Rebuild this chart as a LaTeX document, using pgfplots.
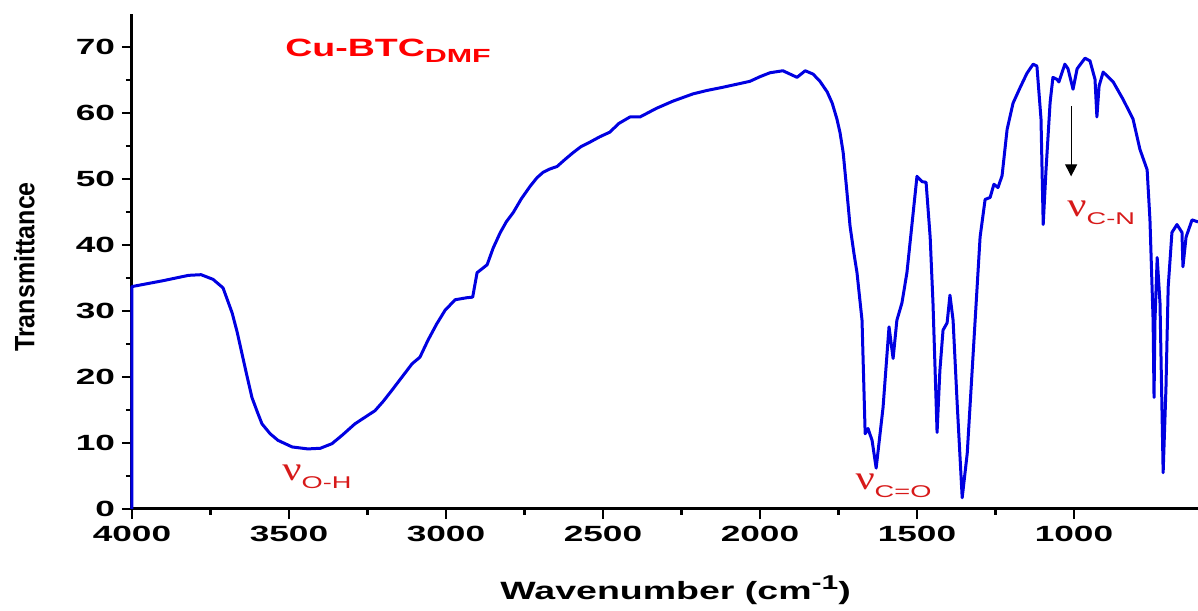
\documentclass[border=0pt]{standalone}
\usepackage{pgfplots}
\pgfplotsset{compat=1.18}
\usepackage{fontspec}
\usetikzlibrary{arrows.meta}
\setmainfont{Liberation Sans}
\newfontfamily\wide[FakeStretch=1.6]{Liberation Sans}
\newfontfamily\midw[FakeStretch=1.5]{Liberation Sans}
\newfontfamily\nufont[FakeStretch=1.25]{Liberation Serif}
\definecolor{specblue}{RGB}{0,0,225}
\definecolor{annred}{RGB}{215,25,25}

% FTIR spectrum
\pgfplotstableread{
w T
4000 0
4000 33.7
3900 34.6
3820 35.4
3780 35.5
3742 34.8
3710 33.5
3681 29.7
3665 26.8
3650 23.6
3634 20.2
3618 16.9
3600 14.6
3586 12.9
3560 11.4
3535 10.4
3490 9.4
3440 9.1
3400 9.2
3363 9.9
3330 11.2
3290 12.9
3226 14.9
3200 16.3
3172 18.0
3140 20.0
3108 22.0
3083 23.0
3057 25.6
3030 28.0
3003 30.1
2971 31.7
2935 32.0
2915 32.1
2901 35.8
2869 37.0
2850 39.5
2828 41.8
2808 43.5
2786 44.9
2760 47.0
2732 48.9
2710 50.2
2691 51.0
2670 51.5
2646 51.9
2620 53.0
2595 54.0
2570 54.9
2541 55.6
2510 56.4
2478 57.1
2450 58.4
2414 59.4
2382 59.4
2330 60.7
2277 61.8
2213 62.9
2170 63.4
2118 63.9
2070 64.4
2032 64.8
2000 65.5
1968 66.1
1927 66.4
1882 65.4
1856 66.4
1831 65.9
1809 64.8
1786 63.2
1770 61.5
1755 59.1
1745 57.0
1735 54.0
1724 48.5
1713 42.8
1700 38.5
1691 35.8
1675 28.6
1665 11.4
1656 12.2
1643 10.4
1630 6.2
1608 15.4
1589 27.6
1576 22.8
1564 28.6
1548 31.2
1532 35.8
1500 50.4
1484 49.6
1471 49.5
1458 41.2
1449 31.2
1436 11.6
1427 21.0
1417 27.1
1404 28.2
1395 32.4
1385 28.6
1372 16.0
1356 1.7
1340 8.4
1321 23.6
1299 41.2
1283 46.9
1267 47.2
1255 49.2
1242 48.7
1229 50.5
1213 57.5
1194 61.5
1172 63.8
1150 66.0
1130 67.4
1118 67.1
1105 59.1
1098 43.1
1089 51.4
1076 61.6
1067 65.4
1054 65.1
1048 64.7
1029 67.4
1019 66.7
1003 63.6
990 66.7
965 68.3
949 67.9
933 65.1
927 59.4
920 64.1
907 66.2
875 64.7
844 62.1
812 59.1
790 54.5
767 51.4
758 43.8
748 28.6
745 16.9
742 28.6
735 38.1
726 31.2
716 5.5
707 18.4
700 33.6
688 41.9
672 43.1
656 41.9
653 36.7
643 41.2
624 43.8
605 43.5
}\spectrum

\begin{document}
\begin{tikzpicture}
\begin{axis}[
  scale only axis, width=533pt, height=247.5pt,
  x dir=reverse, xmin=605, xmax=4000, ymin=0, ymax=75,
  axis x line*=bottom, axis y line*=left,
  axis line style={line width=1.5pt},
  xtick={1000,1500,...,4000}, ytick={0,10,...,70},
  minor x tick num=1, minor y tick num=1,
  tick align=outside,
  major tick length=5pt, minor tick length=3pt,
  every tick/.style={black, line width=1.3pt},
  /pgf/number format/assume math mode=true,
  /pgf/number format/1000 sep={},
  ticklabel style={font=\wide\bfseries\fontsize{11}{12}\selectfont},
  xlabel={Wavenumber (cm\raisebox{5pt}{\fontsize{10}{11}\selectfont -1})},
  ylabel={\scalebox{1}[1.12]{Transmittance}},
  xlabel style={font=\midw\bfseries\fontsize{12.5}{14}\selectfont,
    at={(axis description cs:0.51,-0.1838)}, anchor=base, inner sep=0pt},
  ylabel style={font=\bfseries\fontsize{12.5}{14}\selectfont,
    at={(axis description cs:-0.091,0.489)}, anchor=south, inner sep=0pt},
  clip=false,
]
\addplot[specblue, line width=1.5pt, line join=round] table[x=w, y=T] {\spectrum};

\node[anchor=base west, inner sep=0pt] at (axis cs:3513,68.6)
  {\color{red}\midw\bfseries\fontsize{12.5}{14}\selectfont Cu-BTC\raisebox{-3pt}{\wide\fontsize{9.5}{10}\selectfont DMF}};
\node[anchor=base west, inner sep=0pt] at (axis cs:3522,4.3)
  {\color{annred}\nufont\fontsize{17}{18}\selectfont ν\raisebox{-4pt}{\wide\fontsize{8.5}{10}\selectfont O-H}};
\node[anchor=base west, inner sep=0pt] at (axis cs:1697,3.0)
  {\color{annred}\nufont\fontsize{17}{18}\selectfont ν\raisebox{-4pt}{\wide\fontsize{8.5}{10}\selectfont C=O}};
\node[anchor=base west, inner sep=0pt] at (axis cs:1022,44.3)
  {\color{annred}\nufont\fontsize{17}{18}\selectfont ν\raisebox{-4pt}{\wide\fontsize{8.5}{10}\selectfont C-N}};
\draw[-{Stealth[length=6pt,width=6pt,inset=0pt]}, line width=0.6pt]
  (axis cs:1009,61) -- (axis cs:1009,50.4);
\end{axis}
\pgfresetboundingbox
\useasboundingbox ([xshift=-66pt,yshift=-51pt]current axis.south west)
  rectangle ([yshift=7pt]current axis.north east);
\end{tikzpicture}
\end{document}
